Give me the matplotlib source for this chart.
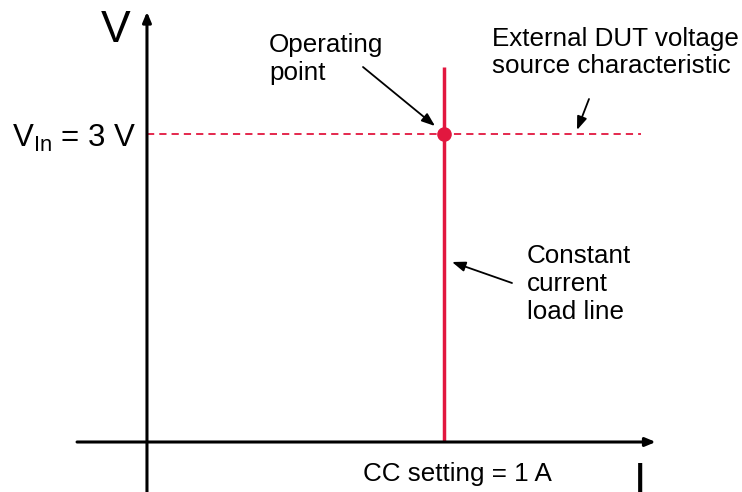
import matplotlib
matplotlib.use('Agg')
import matplotlib.pyplot as plt

plt.rcParams['font.family'] = ['Liberation Sans', 'DejaVu Sans']
plt.rcParams['mathtext.fontset'] = 'custom'
plt.rcParams['mathtext.rm'] = 'Liberation Sans'
plt.rcParams['mathtext.it'] = 'Liberation Sans:italic'

# values (current in A, voltage in V)
cc_setting = [1.0]            # constant current setting
v_in = [3.0]                  # external DUT source voltage
load_line_v = [0.0, 3.65]     # extent of the CC load line
source_i = [0.0, 1.66]        # extent of the source characteristic
i_axis = [-0.235, 1.71]       # drawn extent of the I axis
v_axis = [-0.49, 4.19]        # drawn extent of the V axis

W, H = 742, 492
fig = plt.figure(figsize=(W / 100, H / 100), dpi=100)
ax = fig.add_axes([0, 0, 1, 1])
ax.set_xlim(-0.494, 2.0)
ax.set_ylim(-0.487, 4.305)
ax.axis('off')

red = '#E2173F'
fs = 18.7


def px(x, y):
    # pixel position in the picture -> figure fraction
    return (x / W, 1 - y / H)


# axes with arrow heads
axis_arrow = dict(arrowstyle='-|>,head_length=0.6,head_width=0.25',
                  color='black', lw=2.2, shrinkA=0, shrinkB=0)
ax.annotate('', xy=(i_axis[1], 0), xytext=(i_axis[0], 0), arrowprops=axis_arrow)
ax.annotate('', xy=(0, v_axis[1]), xytext=(0, v_axis[0]), arrowprops=axis_arrow)

# constant current load line and source characteristic
ax.plot([cc_setting[0], cc_setting[0]], load_line_v, color=red, lw=2.5,
        solid_capstyle='butt')
ax.plot(source_i, [v_in[0], v_in[0]], color=red, lw=1.3,
        linestyle=(0, (4.0, 2.8)))
ax.plot(cc_setting, v_in, 'o', color=red, ms=9.5)

# axis labels
fig.text(*px(116, 42), 'V', fontsize=32, ha='center', va='baseline')
fig.text(*px(640, 494), 'I', fontsize=32, ha='center', va='baseline')
fig.text(*px(12, 147), r'$\mathregular{V_{In}}$ = 3 V', fontsize=22.5,
         ha='left', va='baseline')
fig.text(*px(363, 481), 'CC setting = 1 A', fontsize=fs, ha='left',
         va='baseline')

# callouts
def callout(lines, x, y0, step=28):
    for k, line in enumerate(lines):
        fig.text(*px(x, y0 + k * step), line, fontsize=fs, ha='left',
                 va='baseline')


callout(['Operating', 'point'], 269, 52)
callout(['External DUT voltage', 'source characteristic'], 492, 46, 27)
callout(['Constant', 'current', 'load line'], 527, 263)

pointer = dict(arrowstyle='-|>,head_length=0.8,head_width=0.3',
               color='black', lw=1.3, shrinkA=0, shrinkB=0)
for start, end in [((363, 67), (435, 126)),
                   ((589, 99), (577, 130)),
                   ((512, 283), (452, 262))]:
    ax.annotate('', xy=px(*end), xytext=px(*start), xycoords='figure fraction',
                textcoords='figure fraction', arrowprops=pointer)

fig.savefig('out.png', dpi=100)
